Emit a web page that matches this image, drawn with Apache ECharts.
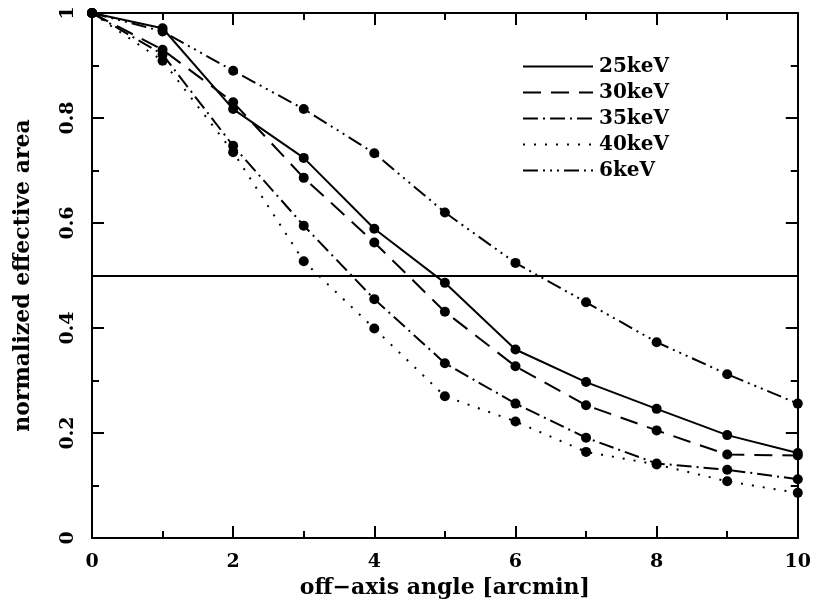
<!DOCTYPE html>
<html>
<head>
<meta charset="utf-8">
<script src="https://cdn.jsdelivr.net/npm/echarts@6/dist/echarts.min.js"></script>
<style>
  html, body { margin: 0; padding: 0; background: #fff; }
  #chart { width: 814px; height: 605px; }
</style>
</head>
<body>
<div id="chart"></div>
<script>
// off-axis angle [arcmin]
const angles = [0, 1, 2, 3, 4, 5, 6, 7, 8, 9, 10];

// normalized effective area per energy
const area25keV = [1, 0.971, 0.817, 0.724, 0.589, 0.486, 0.359, 0.297, 0.246, 0.196, 0.162];
const area30keV = [1, 0.930, 0.830, 0.686, 0.563, 0.431, 0.327, 0.253, 0.205, 0.159, 0.157];
const area35keV = [1, 0.921, 0.747, 0.595, 0.455, 0.333, 0.256, 0.191, 0.142, 0.130, 0.112];
const area40keV = [1, 0.909, 0.735, 0.527, 0.399, 0.270, 0.222, 0.164, 0.140, 0.108, 0.086];
const area6keV  = [1, 0.965, 0.890, 0.817, 0.733, 0.620, 0.524, 0.449, 0.373, 0.312, 0.256];

const seriesNames = ['25keV', '30keV', '35keV', '40keV', '6keV'];
const seriesValues = [area25keV, area30keV, area35keV, area40keV, area6keV];
const halfLevel = 0.5;

// dash patterns for each curve
const dashTypes = [
    'solid',
    [18, 10],
    [15, 5, 2, 5],
    [2, 9],
    [15, 5, 2, 5, 2, 5, 2, 5]
];

const FONT = 'DejaVu Serif';
const chart = echarts.init(document.getElementById('chart'));

const toPairs = vals => angles.map((a, i) => [a, vals[i]]);

const lineSeries = seriesNames.map((name, i) => ({
    name: name,
    type: 'line',
    data: toPairs(seriesValues[i]),
    symbol: 'none',
    lineStyle: { color: '#000', width: 2, type: dashTypes[i] },
    itemStyle: { color: '#000' },
    z: 2
}));

const dotSeries = seriesNames.map((name, i) => ({
    name: name + '-pts',
    type: 'scatter',
    data: toPairs(seriesValues[i]),
    symbol: 'circle',
    symbolSize: 10,
    itemStyle: { color: '#000', opacity: 1 },
    z: 3
}));

// horizontal line at 0.5
lineSeries[0].markLine = {
    silent: true,
    symbol: 'none',
    label: { show: false },
    lineStyle: { color: '#000', width: 2, type: 'solid' },
    data: [{ yAxis: halfLevel }]
};

// frame axis: ticks pointing inward, no labels unless asked
function frameAxis(position, min, max, step, tickLen, withLine) {
    return {
        type: 'value',
        position: position,
        min: min, max: max, interval: step,
        axisLine: { show: withLine, onZero: false, lineStyle: { color: '#000', width: 2 } },
        axisTick: { show: true, inside: true, length: tickLen, lineStyle: { color: '#000', width: 2 } },
        axisLabel: { show: false },
        splitLine: { show: false }
    };
}

const xMain = frameAxis('bottom', 0, 10, 2, 12, true);
xMain.name = 'off\u2212axis angle [arcmin]';
xMain.nameLocation = 'middle';
xMain.nameGap = 32;
xMain.nameTextStyle = { fontFamily: FONT, fontWeight: 'bold', fontSize: 22, color: '#000' };
xMain.axisLabel = { show: true, fontFamily: FONT, fontWeight: 'bold', fontSize: 19, color: '#000', margin: 15 };

const yMain = frameAxis('left', 0, 1, 0.2, 12, true);
yMain.name = 'normalized effective area';
yMain.nameLocation = 'middle';
yMain.nameGap = 58;
yMain.nameTextStyle = { fontFamily: FONT, fontWeight: 'bold', fontSize: 22, color: '#000' };
yMain.axisLabel = {
    show: true, fontFamily: FONT, fontWeight: 'bold', fontSize: 19, color: '#000',
    rotate: 90, margin: 14,
    formatter: v => String(Math.round(v * 10) / 10)
};

const option = {
    animation: false,
    backgroundColor: '#fff',
    grid: { left: 92, right: 16, top: 13, bottom: 67 },
    legend: {
        data: seriesNames,
        orient: 'vertical',
        left: 517,
        top: 51,
        itemWidth: 70,
        itemHeight: 14,
        itemGap: 5,
        itemStyle: { opacity: 0 },
        textStyle: {
            fontFamily: FONT, fontWeight: 'bold', fontSize: 20, lineHeight: 21,
            color: '#000', padding: [0, 0, 0, 1]
        }
    },
    xAxis: [
        xMain,
        frameAxis('bottom', 0, 10, 1, 7, false),
        frameAxis('top', 0, 10, 2, 12, true),
        frameAxis('top', 0, 10, 1, 7, false)
    ],
    yAxis: [
        yMain,
        frameAxis('left', 0, 1, 0.1, 7, false),
        frameAxis('right', 0, 1, 0.2, 12, true),
        frameAxis('right', 0, 1, 0.1, 7, false)
    ],
    series: lineSeries.concat(dotSeries)
};

chart.setOption(option);
</script>
</body>
</html>
